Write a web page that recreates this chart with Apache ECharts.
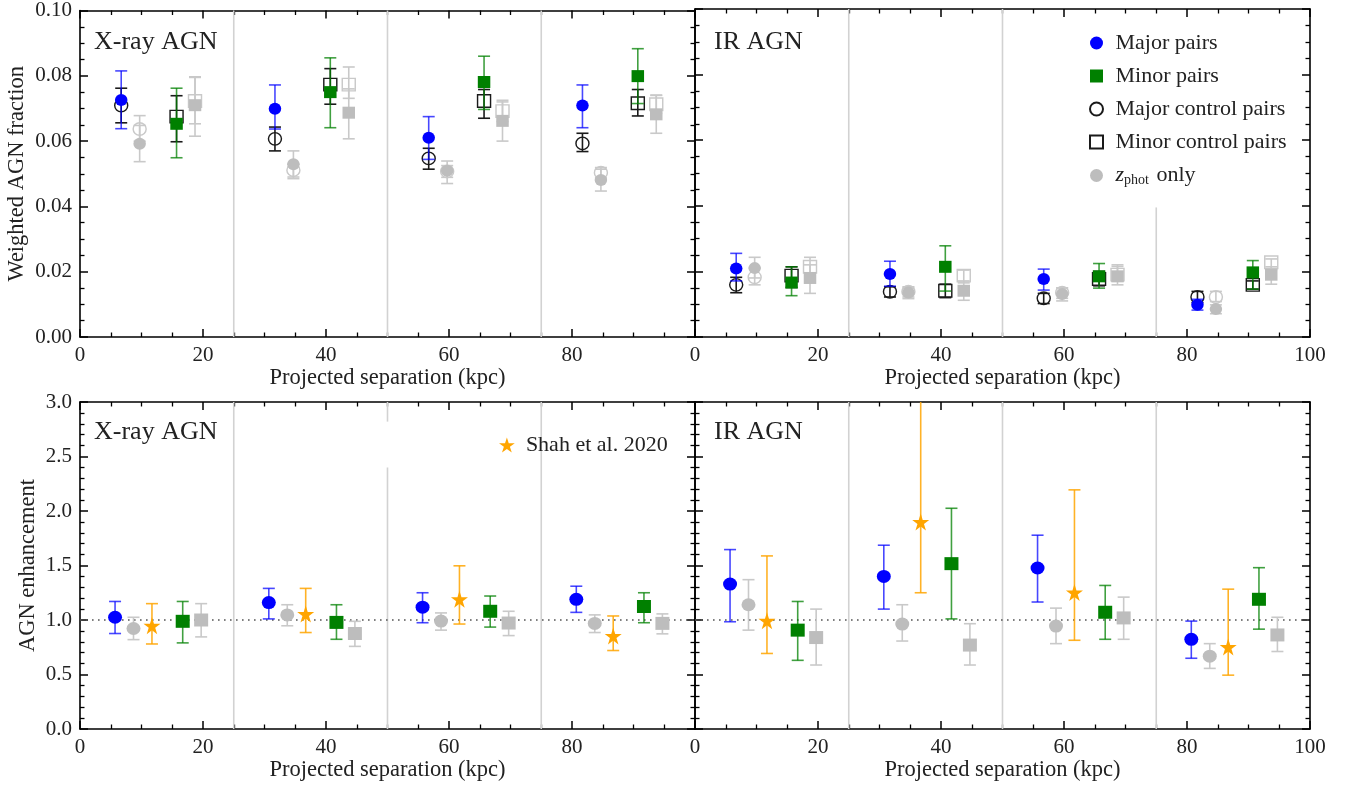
<!DOCTYPE html>
<html><head><meta charset="utf-8">
<script src="https://cdn.jsdelivr.net/npm/echarts/dist/echarts.min.js"></script>
<style>html,body{margin:0;padding:0;background:#fff}#c{width:1349px;height:788px}</style>
</head><body><div id="c"></div>
<script>
// ---------- x positions (kpc) ----------
const xTopMajor  = [6.7, 31.7, 56.7, 81.7];
const xTopZMajor = [9.7, 34.7, 59.7, 84.7];
const xTopMinor  = [15.7, 40.7, 65.7, 90.7];
const xTopZMinor = [18.7, 43.7, 68.7, 93.7];
const xBotMajor  = [5.7, 30.7, 55.7, 80.7];
const xBotZMajor = [8.7, 33.7, 58.7, 83.7];
const xBotShah   = [11.7, 36.7, 61.7, 86.7];
const xBotMinor  = [16.7, 41.7, 66.7, 91.7];
const xBotZMinor = [19.7, 44.7, 69.7, 94.7];

// ---------- X-ray weighted AGN fraction ----------
const xrMajY  = [0.0726, 0.0699, 0.0610, 0.0709];
const xrMajLo = [0.0638, 0.0637, 0.0544, 0.0641];
const xrMajHi = [0.0815, 0.0772, 0.0675, 0.0772];
const xrMajCY  = [0.0709, 0.0607, 0.0547, 0.0593];
const xrMajCLo = [0.0656, 0.0570, 0.0514, 0.0568];
const xrMajCHi = [0.0762, 0.0643, 0.0578, 0.0624];
const xrZMajY  = [0.0592, 0.0529, 0.0509, 0.0481];
const xrZMajLo = [0.0537, 0.0490, 0.0470, 0.0447];
const xrZMajHi = [0.0648, 0.0570, 0.0539, 0.0514];
const xrZMajCY  = [0.0637, 0.0511, 0.0507, 0.0503];
const xrZMajCLo = [0.0600, 0.0485, 0.0489, 0.0487];
const xrZMajCHi = [0.0678, 0.0530, 0.0525, 0.0519];
const xrMinY  = [0.0653, 0.0750, 0.0781, 0.0799];
const xrMinLo = [0.0549, 0.0641, 0.0697, 0.0715];
const xrMinHi = [0.0762, 0.0855, 0.0860, 0.0883];
const xrMinCY  = [0.0675, 0.0773, 0.0723, 0.0716];
const xrMinCLo = [0.0598, 0.0713, 0.0670, 0.0677];
const xrMinCHi = [0.0739, 0.0822, 0.0758, 0.0758];
const xrZMinY  = [0.0710, 0.0687, 0.0662, 0.0682];
const xrZMinLo = [0.0615, 0.0607, 0.0600, 0.0624];
const xrZMinHi = [0.0795, 0.0760, 0.0720, 0.0740];
const xrZMinCY  = [0.0723, 0.0773, 0.0692, 0.0713];
const xrZMinCLo = [0.0653, 0.0731, 0.0660, 0.0685];
const xrZMinCHi = [0.0797, 0.0827, 0.0725, 0.0741];

// ---------- IR weighted AGN fraction ----------
const irMajY  = [0.0209, 0.0192, 0.0177, 0.0098];
const irMajLo = [0.0171, 0.0155, 0.0143, 0.0082];
const irMajHi = [0.0255, 0.0231, 0.0207, 0.0115];
const irMajCY  = [0.0159, 0.0138, 0.0118, 0.0122];
const irMajCLo = [0.0135, 0.0122, 0.0102, 0.0105];
const irMajCHi = [0.0182, 0.0153, 0.0133, 0.0139];
const irZMajY  = [0.0210, 0.0136, 0.0131, 0.0085];
const irZMajLo = [0.0180, 0.0117, 0.0110, 0.0071];
const irZMajHi = [0.0243, 0.0151, 0.0149, 0.0098];
const irZMajCY  = [0.0182, 0.0138, 0.0135, 0.0122];
const irZMajCLo = [0.0159, 0.0122, 0.0118, 0.0108];
const irZMajCHi = [0.0210, 0.0153, 0.0150, 0.0139];
const irMinY  = [0.0166, 0.0214, 0.0185, 0.0197];
const irMinLo = [0.0126, 0.0140, 0.0149, 0.0146];
const irMinHi = [0.0214, 0.0278, 0.0224, 0.0233];
const irMinCY  = [0.0187, 0.0141, 0.0177, 0.0159];
const irMinCLo = [0.0151, 0.0120, 0.0156, 0.0146];
const irMinCHi = [0.0214, 0.0161, 0.0200, 0.0171];
const irZMinY  = [0.0180, 0.0141, 0.0185, 0.0190];
const irZMinLo = [0.0133, 0.0112, 0.0159, 0.0161];
const irZMinHi = [0.0220, 0.0171, 0.0220, 0.0214];
const irZMinCY  = [0.0214, 0.0187, 0.0190, 0.0228];
const irZMinCLo = [0.0185, 0.0165, 0.0170, 0.0205];
const irZMinCHi = [0.0243, 0.0204, 0.0215, 0.0238];

// ---------- X-ray AGN enhancement ----------
const xeMajY  = [1.025, 1.160, 1.118, 1.190];
const xeMajLo = [0.876, 1.010, 0.975, 1.070];
const xeMajHi = [1.170, 1.290, 1.250, 1.310];
const xeZMajY  = [0.922, 1.047, 0.990, 0.969];
const xeZMajLo = [0.820, 0.947, 0.907, 0.885];
const xeZMajHi = [1.025, 1.140, 1.065, 1.047];
const xeShahY  = [0.947, 1.056, 1.190, 0.854];
const xeShahLo = [0.780, 0.885, 0.963, 0.720];
const xeShahHi = [1.150, 1.290, 1.497, 1.037];
const xeMinY  = [0.988, 0.978, 1.080, 1.124];
const xeMinLo = [0.790, 0.823, 0.935, 0.975];
const xeMinHi = [1.170, 1.140, 1.220, 1.250];
const xeZMinY  = [1.000, 0.876, 0.972, 0.969];
const xeZMinLo = [0.845, 0.758, 0.857, 0.873];
const xeZMinHi = [1.150, 0.988, 1.080, 1.056];

// ---------- IR AGN enhancement ----------
const ieMajY  = [1.330, 1.400, 1.477, 0.823];
const ieMajLo = [0.984, 1.100, 1.165, 0.649];
const ieMajHi = [1.646, 1.686, 1.778, 0.990];
const ieZMajY  = [1.140, 0.963, 0.944, 0.668];
const ieZMajLo = [0.907, 0.807, 0.783, 0.556];
const ieZMajHi = [1.370, 1.140, 1.109, 0.783];
const ieShahY  = [0.994, 1.900, 1.252, 0.752];
const ieShahLo = [0.693, 1.250, 0.814, 0.494];
const ieShahHi = [1.588, 3.300, 2.194, 1.283];
const ieMinY  = [0.907, 1.517, 1.071, 1.190];
const ieMinLo = [0.630, 1.010, 0.823, 0.916];
const ieMinHi = [1.170, 2.025, 1.317, 1.480];
const ieZMinY  = [0.839, 0.770, 1.019, 0.863];
const ieZMinLo = [0.587, 0.587, 0.823, 0.711];
const ieZMinHi = [1.100, 0.966, 1.210, 1.025];

// ---------- bin dividers [x, yFrom, yTo] ----------
const divTL = [[25, 0, 0.1], [50, 0, 0.1], [75, 0, 0.1]];
const divTR = [[25, 0, 0.1], [50, 0, 0.1], [75, 0, 0.0395]];
const divBL = [[25, 0, 3], [50, 0, 2.40], [50, 2.82, 3], [75, 0, 3]];
const divBR = [[25, 0, 3], [50, 0, 3], [75, 0, 3]];
const refLevel = 1.0;

const titles = ['X-ray AGN', 'IR AGN', 'X-ray AGN', 'IR AGN'];
const xName = 'Projected separation (kpc)';
const yNameTop = 'Weighted AGN fraction';
const yNameBot = 'AGN enhancement';
const legendNames = ['Major pairs', 'Minor pairs', 'Major control pairs', 'Minor control pairs', 'zphot only'];

// ---------- styling ----------
const FF = '"Liberation Serif", "DejaVu Serif", serif';
const BLUE = '#0000ff', GREEN = '#008000', ORANGE = '#ffa500', GREY = '#bdbdbd', LGREY = '#c9c9c9', BLACK = '#1a1a1a';
const STAR = 'path://M50,0 L61.2,34.5 L97.6,34.5 L68.2,55.9 L79.4,90.5 L50,69.1 L20.6,90.5 L31.8,55.9 L2.4,34.5 L38.8,34.5 Z';
const SQUARE = 'path://M0,0 L10,0 L10,10 L0,10 Z';

const grids = [
  {left: 80, top: 9, width: 615, height: 328},
  {left: 695, top: 9, width: 615, height: 328},
  {left: 80, top: 402, width: 615, height: 327},
  {left: 695, top: 402, width: 615, height: 327}
];

const axLine = {show: true, onZero: false, lineStyle: {color: '#000', width: 1.6}};
const axTick = {show: true, inside: true, length: 8, lineStyle: {color: '#000', width: 1.5}};
const mnTick = (n) => ({show: true, splitNumber: n, length: 4.5, lineStyle: {color: '#000', width: 1.3}});
const lblStyle = {fontFamily: FF, fontSize: 21, color: '#222'};
const nameStyle = {fontFamily: FF, fontSize: 22.5, color: '#222'};

const xAxes = [], yAxes = [];
for (let p = 0; p < 4; p++) {
  const isLeft = (p % 2 === 0), isTop = p < 2;
  xAxes.push({gridIndex: p, type: 'value', min: 0, max: 100, interval: 20, position: 'bottom',
    axisLine: axLine, axisTick: axTick, minorTick: mnTick(4), splitLine: {show: false},
    axisLabel: Object.assign({margin: 8, formatter: v => (isLeft && v === 100) ? '' : String(v)}, lblStyle),
    name: xName, nameLocation: 'middle', nameGap: 30, nameTextStyle: nameStyle});
  xAxes.push({gridIndex: p, type: 'value', min: 0, max: 100, interval: 20, position: 'top',
    axisLine: axLine, axisTick: axTick, minorTick: mnTick(4), splitLine: {show: false}, axisLabel: {show: false}});
  const ymax = isTop ? 0.1 : 3, yint = isTop ? 0.02 : 0.5, ysplit = isTop ? 4 : 5;
  yAxes.push({gridIndex: p, type: 'value', min: 0, max: ymax, interval: yint, position: 'left',
    axisLine: axLine, axisTick: axTick, minorTick: mnTick(ysplit), splitLine: {show: false},
    axisLabel: Object.assign({show: isLeft, margin: 8, formatter: v => v.toFixed(isTop ? 2 : 1)}, lblStyle),
    name: isLeft ? (isTop ? yNameTop : yNameBot) : '', nameLocation: 'middle', nameGap: isTop ? 51 : 40,
    nameTextStyle: nameStyle});
  yAxes.push({gridIndex: p, type: 'value', min: 0, max: ymax, interval: yint, position: 'right',
    axisLine: axLine, axisTick: axTick, minorTick: mnTick(ysplit), splitLine: {show: false}, axisLabel: {show: false}});
}

const series = [];
function vlineSeries(p, segs) {
  series.push({type: 'custom', xAxisIndex: 2 * p, yAxisIndex: 2 * p, silent: true, z: 1,
    data: segs, encode: {x: 0, y: [1, 2]},
    renderItem: (params, api) => {
      const a = api.coord([api.value(0), api.value(2)]), b = api.coord([api.value(0), api.value(1)]);
      return {type: 'line', shape: {x1: a[0], y1: a[1], x2: b[0], y2: b[1]}, style: {stroke: '#d2d2d2', lineWidth: 1.6}};
    }});
}
function errSeries(p, xs, lo, hi, color, z) {
  series.push({type: 'custom', xAxisIndex: 2 * p, yAxisIndex: 2 * p, silent: true, z: z,
    data: xs.map((x, i) => [x, lo[i], hi[i]]), encode: {x: 0, y: [1, 2]},
    renderItem: (params, api) => {
      const cs = params.coordSys;
      const a = api.coord([api.value(0), api.value(2)]), b = api.coord([api.value(0), api.value(1)]);
      const w = 6, st = {stroke: color, lineWidth: 1.6};
      const kids = [];
      let topY = a[1], capTop = true;
      if (topY < cs.y) { topY = cs.y; capTop = false; }
      kids.push({type: 'line', shape: {x1: a[0], y1: topY, x2: b[0], y2: b[1]}, style: st});
      if (capTop) kids.push({type: 'line', shape: {x1: a[0] - w, y1: a[1], x2: a[0] + w, y2: a[1]}, style: st});
      kids.push({type: 'line', shape: {x1: b[0] - w, y1: b[1], x2: b[0] + w, y2: b[1]}, style: st});
      return {type: 'group', children: kids};
    }});
}
function ptSeries(p, name, xs, ys, sym, size, fill, stroke, bw, z) {
  series.push({type: 'scatter', name: name, xAxisIndex: 2 * p, yAxisIndex: 2 * p, silent: true, z: z,
    symbol: sym, symbolSize: size, data: xs.map((x, i) => [x, ys[i]]),
    itemStyle: {color: fill, borderColor: stroke, borderWidth: bw, opacity: 1},
    emphasis: {disabled: true}});
}
function fracPanel(p, d) {
  const sF = [12.5, 12], sO = [13, 12.5];
  errSeries(p, xTopZMajor, d.zmcLo, d.zmcHi, LGREY, 2);
  ptSeries(p, 'zphot control (major)', xTopZMajor, d.zmcY, 'circle', sO, 'rgba(255,255,255,0)', LGREY, 1.4, 3);
  errSeries(p, xTopZMinor, d.zncLo, d.zncHi, LGREY, 2);
  ptSeries(p, 'zphot control (minor)', xTopZMinor, d.zncY, 'rect', sO, 'rgba(255,255,255,0)', LGREY, 1.4, 3);
  errSeries(p, xTopZMajor, d.zmLo, d.zmHi, LGREY, 4);
  ptSeries(p, 'zphot only', xTopZMajor, d.zmY, 'circle', sF, GREY, GREY, 0, 5);
  errSeries(p, xTopZMinor, d.znLo, d.znHi, LGREY, 4);
  ptSeries(p, 'zphot minor', xTopZMinor, d.znY, 'rect', sF, GREY, GREY, 0, 5);
  errSeries(p, xTopMajor, d.mcLo, d.mcHi, BLACK, 6);
  ptSeries(p, 'Major control pairs', xTopMajor, d.mcY, 'circle', sO, 'rgba(255,255,255,0)', BLACK, 1.4, 7);
  errSeries(p, xTopMinor, d.ncLo, d.ncHi, BLACK, 6);
  ptSeries(p, 'Minor control pairs', xTopMinor, d.ncY, 'rect', sO, 'rgba(255,255,255,0)', BLACK, 1.4, 7);
  errSeries(p, xTopMajor, d.mLo, d.mHi, 'rgba(0,0,255,0.72)', 8);
  ptSeries(p, 'Major pairs', xTopMajor, d.mY, 'circle', sF, BLUE, BLUE, 0, 9);
  errSeries(p, xTopMinor, d.nLo, d.nHi, 'rgba(0,128,0,0.75)', 8);
  ptSeries(p, 'Minor pairs', xTopMinor, d.nY, 'rect', sF, GREEN, GREEN, 0, 9);
}
function enhPanel(p, d) {
  const sF = [14, 13];
  series.push({type: 'line', xAxisIndex: 2 * p, yAxisIndex: 2 * p, silent: true, z: 1, symbol: 'none',
    data: [[0, refLevel], [100, refLevel]], lineStyle: {color: '#555', width: 1.6, type: [1.6, 4.4]}});
  errSeries(p, xBotZMajor, d.zmLo, d.zmHi, LGREY, 2);
  ptSeries(p, 'zphot only', xBotZMajor, d.zmY, 'circle', sF, GREY, GREY, 0, 3);
  errSeries(p, xBotZMinor, d.znLo, d.znHi, LGREY, 2);
  ptSeries(p, 'zphot minor', xBotZMinor, d.znY, 'rect', sF, GREY, GREY, 0, 3);
  errSeries(p, xBotShah, d.sLo, d.sHi, 'rgba(255,165,0,0.85)', 4);
  ptSeries(p, 'Shah et al. 2020', xBotShah, d.sY, STAR, 17, ORANGE, ORANGE, 0, 5);
  errSeries(p, xBotMajor, d.mLo, d.mHi, 'rgba(0,0,255,0.72)', 6);
  ptSeries(p, 'Major pairs', xBotMajor, d.mY, 'circle', sF, BLUE, BLUE, 0, 7);
  errSeries(p, xBotMinor, d.nLo, d.nHi, 'rgba(0,128,0,0.75)', 6);
  ptSeries(p, 'Minor pairs', xBotMinor, d.nY, 'rect', sF, GREEN, GREEN, 0, 7);
}

vlineSeries(0, divTL); vlineSeries(1, divTR); vlineSeries(2, divBL); vlineSeries(3, divBR);
fracPanel(0, {mY: xrMajY, mLo: xrMajLo, mHi: xrMajHi, mcY: xrMajCY, mcLo: xrMajCLo, mcHi: xrMajCHi,
  zmY: xrZMajY, zmLo: xrZMajLo, zmHi: xrZMajHi, zmcY: xrZMajCY, zmcLo: xrZMajCLo, zmcHi: xrZMajCHi,
  nY: xrMinY, nLo: xrMinLo, nHi: xrMinHi, ncY: xrMinCY, ncLo: xrMinCLo, ncHi: xrMinCHi,
  znY: xrZMinY, znLo: xrZMinLo, znHi: xrZMinHi, zncY: xrZMinCY, zncLo: xrZMinCLo, zncHi: xrZMinCHi});
fracPanel(1, {mY: irMajY, mLo: irMajLo, mHi: irMajHi, mcY: irMajCY, mcLo: irMajCLo, mcHi: irMajCHi,
  zmY: irZMajY, zmLo: irZMajLo, zmHi: irZMajHi, zmcY: irZMajCY, zmcLo: irZMajCLo, zmcHi: irZMajCHi,
  nY: irMinY, nLo: irMinLo, nHi: irMinHi, ncY: irMinCY, ncLo: irMinCLo, ncHi: irMinCHi,
  znY: irZMinY, znLo: irZMinLo, znHi: irZMinHi, zncY: irZMinCY, zncLo: irZMinCLo, zncHi: irZMinCHi});
enhPanel(2, {mY: xeMajY, mLo: xeMajLo, mHi: xeMajHi, zmY: xeZMajY, zmLo: xeZMajLo, zmHi: xeZMajHi,
  sY: xeShahY, sLo: xeShahLo, sHi: xeShahHi, nY: xeMinY, nLo: xeMinLo, nHi: xeMinHi,
  znY: xeZMinY, znLo: xeZMinLo, znHi: xeZMinHi});
enhPanel(3, {mY: ieMajY, mLo: ieMajLo, mHi: ieMajHi, zmY: ieZMajY, zmLo: ieZMajLo, zmHi: ieZMajHi,
  sY: ieShahY, sLo: ieShahLo, sHi: ieShahHi, nY: ieMinY, nLo: ieMinLo, nHi: ieMinHi,
  znY: ieZMinY, znLo: ieZMinLo, znHi: ieZMinHi});

const legendText = {fontFamily: FF, fontSize: 22, color: '#222', lineHeight: 22,
  rich: {i: {fontFamily: FF, fontSize: 22, fontStyle: 'italic', color: '#222', lineHeight: 22},
         s: {fontFamily: FF, fontSize: 14, color: '#222', lineHeight: 22, padding: [9, 2, 0, 0]}}};

const legendData = legendNames.map(n => (n === 'Minor pairs' || n === 'Minor control pairs') ? {name: n, icon: SQUARE} : {name: n});

const option = {
  animation: false,
  backgroundColor: '#fff',
  grid: grids,
  xAxis: xAxes,
  yAxis: yAxes,
  legend: [
    {data: legendData, orient: 'vertical', left: 1089, top: 32, padding: 0, itemWidth: 28, itemHeight: 13,
     itemGap: 11, selectedMode: false, symbolKeepAspect: true, textStyle: legendText,
     formatter: n => n === 'zphot only' ? '{i|z}{s|phot} only' : n},
    {data: ['Shah et al. 2020'], left: 499, top: 434, padding: 0, itemWidth: 28, itemHeight: 15,
     selectedMode: false, symbolKeepAspect: true, textStyle: legendText}
  ],
  graphic: [
    {type: 'text', x: 94, y: 42, style: {text: titles[0], font: '26px ' + FF, fill: '#222', verticalAlign: 'middle'}},
    {type: 'text', x: 714, y: 42, style: {text: titles[1], font: '26px ' + FF, fill: '#222', verticalAlign: 'middle'}},
    {type: 'text', x: 94, y: 432, style: {text: titles[2], font: '26px ' + FF, fill: '#222', verticalAlign: 'middle'}},
    {type: 'text', x: 714, y: 432, style: {text: titles[3], font: '26px ' + FF, fill: '#222', verticalAlign: 'middle'}}
  ],
  series: series
};
const chart = echarts.init(document.getElementById('c'), null, {renderer: 'canvas'});
chart.setOption(option);
</script></body></html>
